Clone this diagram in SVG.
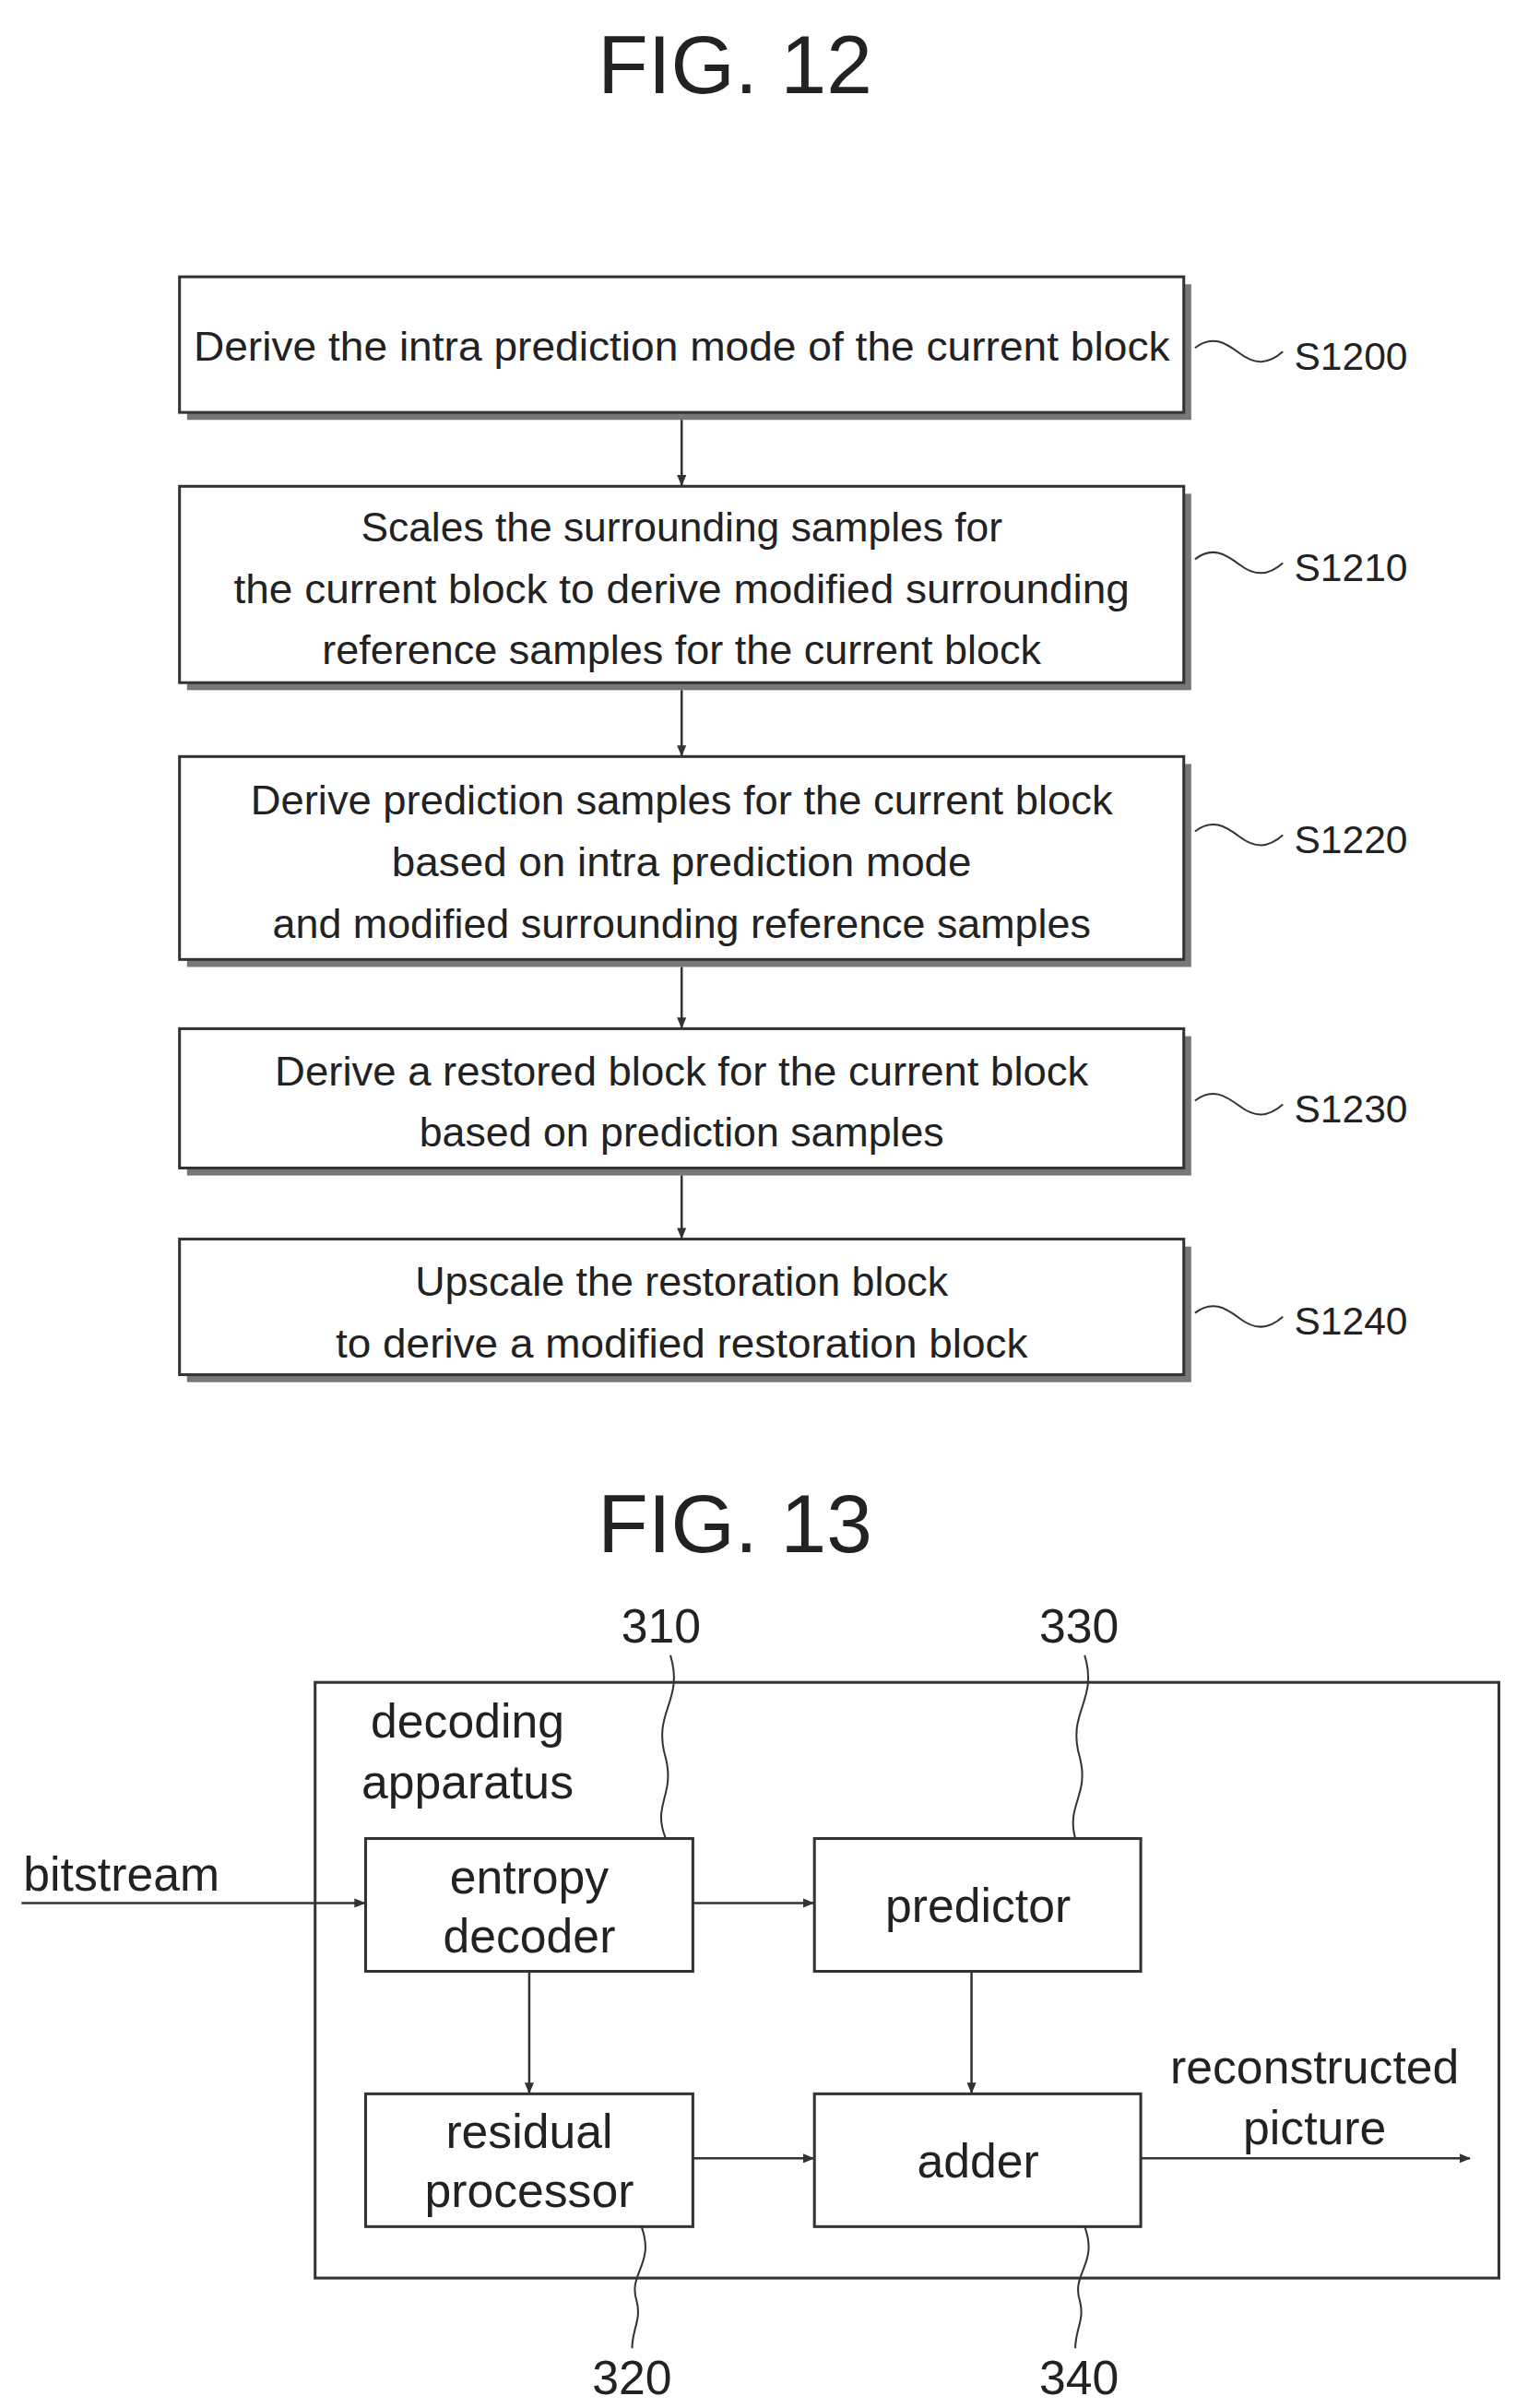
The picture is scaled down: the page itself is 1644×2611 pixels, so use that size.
<svg xmlns="http://www.w3.org/2000/svg" width="1644" height="2611" viewBox="0 0 1644 2611">
<style>
text{font-family:"Liberation Sans",Arial,sans-serif;fill:#222;text-anchor:middle}
.t{font-size:44px}
.l{font-size:42px;text-anchor:start}
.b{font-size:51px}
.title{font-size:88px}
.box{fill:#fff;stroke:#333;stroke-width:3}
.sh{fill:#777}
.c{fill:none;stroke:#333;stroke-width:2.5}
.w{fill:none;stroke:#333;stroke-width:2}
</style>
<defs>
<marker id="a" markerWidth="12" markerHeight="10" refX="11" refY="5" orient="auto" markerUnits="userSpaceOnUse"><path d="M0,0 L12,5 L0,10 Z" fill="#333"/></marker>
</defs>
<g transform="scale(1.014)">
<text class="title" x="786" y="100">FIG. 12</text>
<g id="s1200"><rect class="sh" x="200" y="304" width="1074" height="145"/><rect class="box" x="192" y="296" width="1074" height="145"/>
<text class="t" x="729" y="386" textLength="1044" lengthAdjust="spacingAndGlyphs">Derive the intra prediction mode of the current block</text>
<path class="w" d="M1278,372 c18,-14 32,-6 48,6 s30,12 46,-2"/><text class="l" x="1384" y="395">S1200</text></g>
<g id="s1210"><rect class="sh" x="200" y="528" width="1074" height="210"/><rect class="box" x="192" y="520" width="1074" height="210"/>
<text class="t" x="729" y="579" textLength="686" lengthAdjust="spacingAndGlyphs">Scales the surrounding samples for</text>
<text class="t" x="729" y="645" textLength="958" lengthAdjust="spacingAndGlyphs">the current block to derive modified surrounding</text>
<text class="t" x="729" y="710" textLength="769" lengthAdjust="spacingAndGlyphs">reference samples for the current block</text>
<path class="w" d="M1278,598 c18,-14 32,-6 48,6 s30,12 46,-2"/><text class="l" x="1384" y="621">S1210</text></g>
<g id="s1220"><rect class="sh" x="200" y="817" width="1074" height="217"/><rect class="box" x="192" y="809" width="1074" height="217"/>
<text class="t" x="729" y="871" textLength="922" lengthAdjust="spacingAndGlyphs">Derive prediction samples for the current block</text>
<text class="t" x="729" y="937" textLength="620" lengthAdjust="spacingAndGlyphs">based on intra prediction mode</text>
<text class="t" x="729" y="1003" textLength="875" lengthAdjust="spacingAndGlyphs">and modified surrounding reference samples</text>
<path class="w" d="M1278,889 c18,-14 32,-6 48,6 s30,12 46,-2"/><text class="l" x="1384" y="912">S1220</text></g>
<g id="s1230"><rect class="sh" x="200" y="1108" width="1074" height="149"/><rect class="box" x="192" y="1100" width="1074" height="149"/>
<text class="t" x="729" y="1161" textLength="870" lengthAdjust="spacingAndGlyphs">Derive a restored block for the current block</text>
<text class="t" x="729" y="1226" textLength="561" lengthAdjust="spacingAndGlyphs">based on prediction samples</text>
<path class="w" d="M1278,1177 c18,-14 32,-6 48,6 s30,12 46,-2"/><text class="l" x="1384" y="1200">S1230</text></g>
<g id="s1240"><rect class="sh" x="200" y="1333" width="1074" height="145"/><rect class="box" x="192" y="1325" width="1074" height="145"/>
<text class="t" x="729" y="1386" textLength="570" lengthAdjust="spacingAndGlyphs">Upscale the restoration block</text>
<text class="t" x="729" y="1452" textLength="740" lengthAdjust="spacingAndGlyphs">to derive a modified restoration block</text>
<path class="w" d="M1278,1404 c18,-14 32,-6 48,6 s30,12 46,-2"/><text class="l" x="1384" y="1427">S1240</text></g>
<g id="fig12-connectors">
<line class="c" x1="729" y1="449" x2="729" y2="519" marker-end="url(#a)"/>
<line class="c" x1="729" y1="738" x2="729" y2="808" marker-end="url(#a)"/>
<line class="c" x1="729" y1="1034" x2="729" y2="1099" marker-end="url(#a)"/>
<line class="c" x1="729" y1="1257" x2="729" y2="1324" marker-end="url(#a)"/>
</g>
<text class="title" x="786" y="1660">FIG. 13</text>
<g id="apparatus"><rect x="337" y="1799" width="1266" height="637" fill="none" stroke="#333" stroke-width="3"/>
<text class="b" x="500" y="1858">decoding</text><text class="b" x="500" y="1923">apparatus</text></g>
<g id="entropy"><rect class="box" x="391" y="1966" width="350" height="142"/><text class="b" x="566" y="2025">entropy</text><text class="b" x="566" y="2088">decoder</text></g>
<g id="predictor"><rect class="box" x="871" y="1966" width="349" height="142"/><text class="b" x="1046" y="2055">predictor</text></g>
<g id="residual"><rect class="box" x="391" y="2239" width="350" height="142"/><text class="b" x="566" y="2297">residual</text><text class="b" x="566" y="2360">processor</text></g>
<g id="adder"><rect class="box" x="871" y="2239" width="349" height="142"/><text class="b" x="1046" y="2328">adder</text></g>
<g id="labels">
<text class="b" x="25" y="2022" style="text-anchor:start">bitstream</text>
<text class="b" x="1406" y="2228">reconstructed</text><text class="b" x="1406" y="2293">picture</text>
<text class="b" x="707" y="1756">310</text><text class="b" x="1154" y="1756">330</text>
<text class="b" x="676" y="2560">320</text><text class="b" x="1154" y="2560">340</text>
<path class="w" d="M717,1770 c15,50 -20,60 -5,110 c10,40 -15,50 0,86"/>
<path class="w" d="M1160,1770 c15,50 -20,60 -5,110 c10,40 -15,50 -5,86"/>
<path class="w" d="M686,2381 c15,40 -15,50 -5,80 c5,20 -5,30 -5,50"/>
<path class="w" d="M1160,2381 c15,40 -15,50 -5,80 c5,20 -5,30 -5,50"/>
</g>
<g id="fig13-connectors">
<line class="c" x1="23" y1="2035" x2="390" y2="2035" marker-end="url(#a)"/>
<line class="c" x1="741" y1="2035" x2="870" y2="2035" marker-end="url(#a)"/>
<line class="c" x1="566" y1="2108" x2="566" y2="2238" marker-end="url(#a)"/>
<line class="c" x1="1039" y1="2108" x2="1039" y2="2238" marker-end="url(#a)"/>
<line class="c" x1="741" y1="2308" x2="870" y2="2308" marker-end="url(#a)"/>
<line class="c" x1="1220" y1="2308" x2="1572" y2="2308" marker-end="url(#a)"/>
</g>
</g>
</svg>
